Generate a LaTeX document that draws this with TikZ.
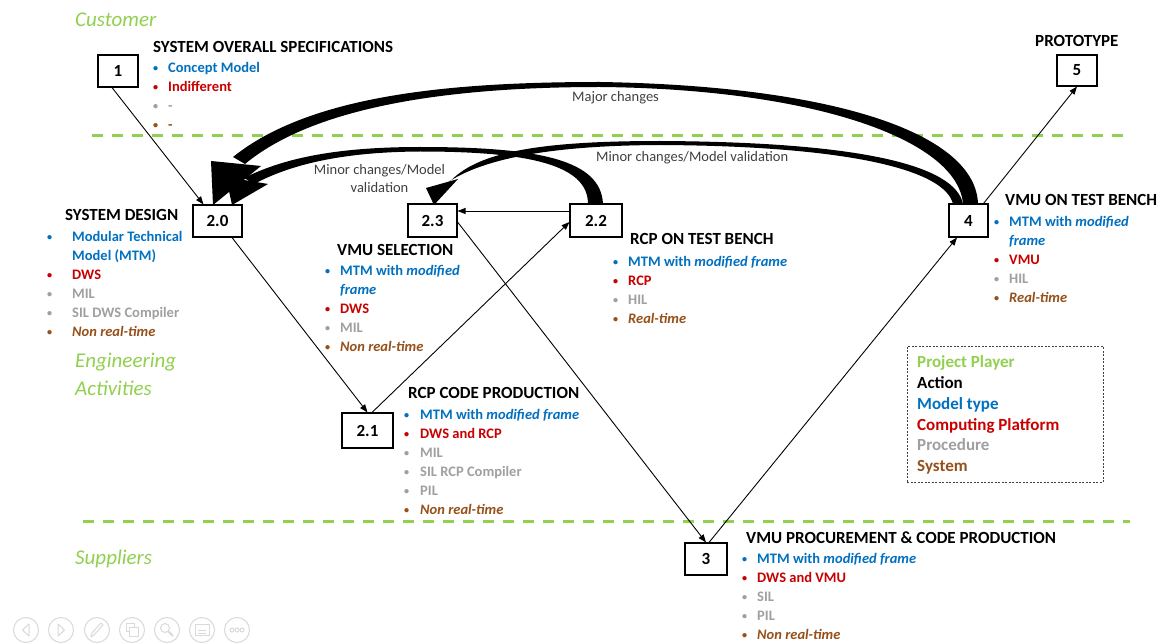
\documentclass[tikz,border=0pt]{standalone}
\usepackage{fontspec}
\usepackage{graphicx}
\setmainfont{Carlito}
\usetikzlibrary{arrows.meta}

\definecolor{player}{RGB}{146,208,80}
\definecolor{model}{RGB}{0,112,192}
\definecolor{platform}{RGB}{200,0,0}
\definecolor{proc}{RGB}{160,160,160}
\definecolor{sys}{RGB}{150,80,25}
\definecolor{remarkc}{RGB}{64,64,64}
\definecolor{ctrl}{RGB}{218,218,218}

% one bulleted line, and one continuation line without bullet
\newcommand\smallbullet{\raisebox{0.08em}{\scalebox{0.7}{\textbullet}}}
\newcommand\li[3][15pt]{\makebox[#1][l]{\strut\textcolor{#2}{\smallbullet}}\textcolor{#2}{#3}}
\newcommand\lc[3][15pt]{\makebox[#1][l]{\strut}\textcolor{#2}{#3}}

\tikzset{
  stepnum/.style={draw, line width=1.1pt, inner sep=0pt, font=\fontsize{17}{20}\selectfont\bfseries},
  heading/.style={anchor=base west, inner sep=0pt, font=\fontsize{17}{20}\selectfont\bfseries},
  itemlist/.style={anchor=north west, inner sep=0pt, align=left, font=\fontsize{14.5}{19}\selectfont\bfseries},
  region/.style={anchor=base west, inner sep=0pt, text=player, font=\fontsize{21}{25}\selectfont\itshape},
  flow/.style={line width=0.9pt, -{Triangle[length=8pt,width=6pt]}},
  bigarrow/.style={fill=black, draw=none},
  remark/.style={inner sep=0pt, text=remarkc, font=\fontsize{14.5}{18}\selectfont},
  lane/.style={draw=player, line width=3pt, dash pattern=on 11pt off 9pt},
  ctrlbtn/.style={draw=ctrl, line width=1pt},
}

\begin{document}
\begin{tikzpicture}[x=1pt,y=-1pt]
\useasboundingbox (0,0) rectangle (1172,644);
\fill[white] (0,0) rectangle (1172,644);

% swim-lane separators and lane names
\draw[lane] (92,136) -- (1130,136);
\draw[lane] (83,521) -- (1130,521);
\node[region] (customer) at (75,27) {Customer};
\node[region] (engineering) at (75,367) {Engineering};
\node[region] (activities) at (75,395) {Activities};
\node[region] (suppliers) at (75,564) {Suppliers};

% feedback arrows (tapered bands with heads)
% major changes: 4 -> 2.0
\fill[bigarrow] (978,204) .. controls (976,135) and (840,86) .. (600,82)
  .. controls (450,82) and (310,95) .. (233,157)
  -- (245,164) .. controls (315,106) and (450,87) .. (600,87)
  .. controls (815,89) and (958,140) .. (963,204) -- cycle;
\fill[bigarrow] (211,161) -- (261,166) -- (213,205) -- cycle;
% minor changes: 2.2 -> 2.0
\fill[bigarrow] (603,204) .. controls (601,160) and (540,147) .. (420,147)
  .. controls (330,147) and (280,160) .. (244,178)
  -- (254,184) .. controls (290,165) and (340,152) .. (420,151.5)
  .. controls (530,151.5) and (588,165) .. (588,204) -- cycle;
\fill[bigarrow] (226,177) -- (268,184) -- (232,205) -- cycle;
% minor changes: 4 -> 2.3
\fill[bigarrow] (963,204) .. controls (955,165) and (860,142) .. (660,141)
  .. controls (540,141) and (480,152) .. (452,179.5)
  -- (444,185) .. controls (478,160) and (545,145.5) .. (660,145)
  .. controls (850,146) and (945,170) .. (953,204) -- cycle;
\fill[bigarrow] (426,188) -- (458,179) -- (434,205) -- cycle;

\node[remark, anchor=base west] (major) at (572,101.7) {Major changes};
\node[remark, anchor=base west] (minorright) at (596,161.7) {Minor changes/Model validation};
\node[remark, anchor=north, align=center] (minorleft) at (379.5,162.1) {\strut Minor changes/Model\\\strut validation};

% process steps
\node[stepnum, minimum width=40pt, minimum height=32pt] (b1) at (118,71) {1};
\node[stepnum, minimum width=49pt, minimum height=32pt] (b20) at (217.5,221) {2.0};
\node[stepnum, minimum width=51pt, minimum height=35pt] (b21) at (367.5,430.5) {2.1};
\node[stepnum, minimum width=52pt, minimum height=33pt] (b22) at (596,220.5) {2.2};
\node[stepnum, minimum width=49pt, minimum height=33pt] (b23) at (432.5,220.5) {2.3};
\node[stepnum, minimum width=42pt, minimum height=32pt] (b3) at (706,559) {3};
\node[stepnum, minimum width=39pt, minimum height=33pt] (b4) at (968.5,220.5) {4};
\node[stepnum, minimum width=40pt, minimum height=31pt] (b5) at (1077,70.5) {5};

% flow between steps
\draw[flow] ([xshift=-6pt]b1.south) -- ([xshift=-14pt]b20.north);
\draw[flow] ([xshift=14.5pt]b20.south) -- (b21.north);
\draw[flow] ([xshift=4.5pt]b21.north) -- ([yshift=-1.5pt]b22.west);
\draw[flow] ([yshift=9.5pt]b22.west) -- ([yshift=9.5pt]b23.east);
\draw[flow] ([yshift=-1.5pt]b23.east) -- (b3.north);
\draw[flow] ([xshift=3pt]b3.north) -- ([xshift=-11.5pt]b4.south);
\draw[flow] ([xshift=-5pt]b4.north east) -- (b5.south);

% step descriptions
\node[heading] (h1) at (153,52.5) {SYSTEM OVERALL SPECIFICATIONS};
\node[itemlist] (l1) at (153,58.7) {\li{model}{Concept Model}\\ \li{platform}{Indifferent}\\ \li{proc}{-}\\ \li{sys}{-}};

\node[heading] (h20) at (65,220.5) {SYSTEM DESIGN};
\node[itemlist] (l20) at (47,227.7) {\li[25pt]{model}{Modular Technical}\\ \lc[25pt]{model}{Model (MTM)}\\ \li[25pt]{platform}{DWS}\\ \li[25pt]{proc}{MIL}\\ \li[25pt]{proc}{SIL DWS Compiler}\\ \li[25pt]{sys}{\textit{Non real-time}}};

\node[heading] (h23) at (337,255.5) {VMU SELECTION};
\node[itemlist] (l23) at (325,261.7) {\li{model}{MTM with \textit{modified}}\\ \lc{model}{\textit{frame}}\\ \li{platform}{DWS}\\ \li{proc}{MIL}\\ \li{sys}{\textit{Non real-time}}};

\node[heading] (h22) at (630,244.5) {RCP ON TEST BENCH};
\node[itemlist] (l22) at (613,252.7) {\li{model}{MTM with \textit{modified frame}}\\ \li{platform}{RCP}\\ \li{proc}{HIL}\\ \li{sys}{\textit{Real-time}}};

\node[heading] (h4) at (1005,205.5) {VMU ON TEST BENCH};
\node[itemlist] (l4) at (994,212.7) {\li{model}{MTM with \textit{modified}}\\ \lc{model}{\textit{frame}}\\ \li{platform}{VMU}\\ \li{proc}{HIL}\\ \li{sys}{\textit{Real-time}}};

\node[heading] (h5) at (1035,46.5) {PROTOTYPE};

\node[heading] (h21) at (408,398.5) {RCP CODE PRODUCTION};
\node[itemlist] (l21) at (404,405.7) {\li[16pt]{model}{MTM with \textit{modified frame}}\\ \li[16pt]{platform}{DWS and RCP}\\ \li[16pt]{proc}{MIL}\\ \li[16pt]{proc}{SIL RCP Compiler}\\ \li[16pt]{proc}{PIL}\\ \li[16pt]{sys}{\textit{Non real-time}}};

\node[heading] (h3) at (746,543.5) {VMU PROCUREMENT \& CODE PRODUCTION};
\node[itemlist] (l3) at (742,549.7) {\li{model}{MTM with \textit{modified frame}}\\ \li{platform}{DWS and VMU}\\ \li{proc}{SIL}\\ \li{proc}{PIL}\\ \li{sys}{\textit{Non real-time}}};

% legend
\node[draw=black!75, dash pattern=on 2pt off 1.5pt, line width=0.8pt, minimum width=196pt, minimum height=136pt, inner sep=0pt] (legendbox) at (1005,414) {};
\node[anchor=north west, inner sep=0pt, align=left, font=\fontsize{17}{20.8}\selectfont\bfseries] (legend) at (917,352.9)
  {\strut\textcolor{player}{Project Player}\\ \strut Action\\ \strut\textcolor{model}{Model type}\\ \strut\textcolor{platform}{Computing Platform}\\ \strut\textcolor{proc}{Procedure}\\ \strut\textcolor{sys}{System}};

% slide show controls
\foreach \cx in {26,61,97,132,167,202,237} \draw[ctrlbtn] (\cx,630) circle (12.5);
\draw[ctrlbtn, line join=round] (29,624) -- (22.5,630) -- (29,636) -- cycle;
\draw[ctrlbtn, line join=round] (58,624) -- (64.5,630) -- (58,636) -- cycle;
\draw[ctrlbtn, line join=round] (91,637) -- (92,633) -- (101,623) -- (103,625) -- (94,635) -- cycle;
\draw[ctrlbtn] (126,623) rectangle (134,631);
\draw[ctrlbtn, fill=white] (129,627) rectangle (138,636);
\draw[ctrlbtn] (165,628) circle (4.5);
\draw[ctrlbtn, line width=2pt] (168.5,631.5) -- (173,636);
\draw[ctrlbtn] (195,624.5) rectangle (209,635.5);
\draw[ctrlbtn] (198,630) -- (206,630) (198,633) -- (206,633);
\foreach \dx in {-5,0,5} \draw[ctrlbtn] (237+\dx,630) circle (2);
\end{tikzpicture}
\end{document}
